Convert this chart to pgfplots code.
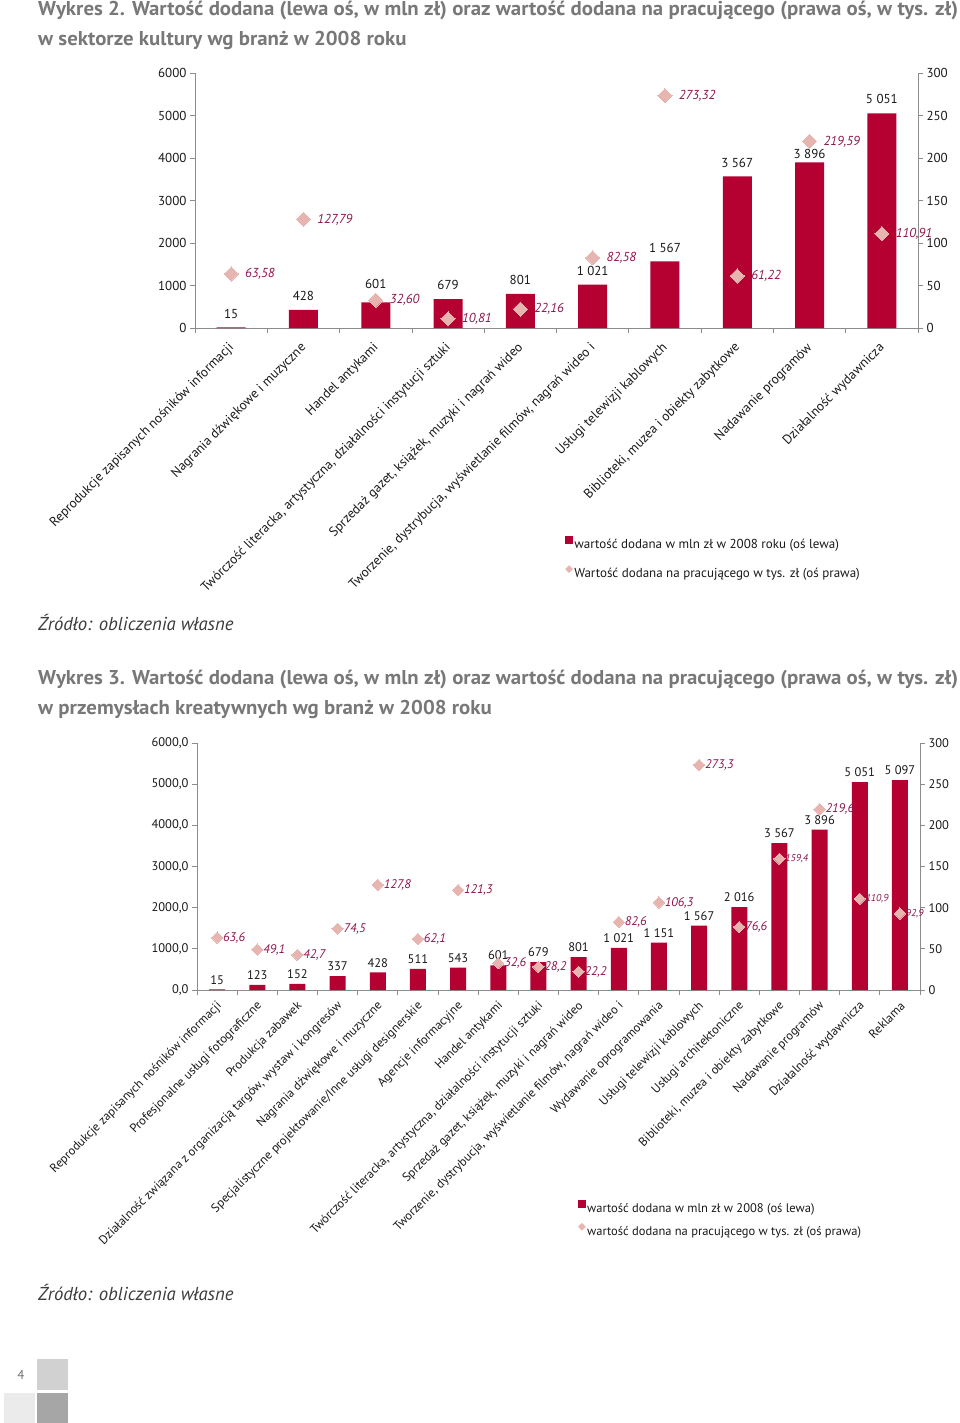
\documentclass[border=0pt]{standalone}
\usepackage{fontspec}
\setmainfont{PT Sans}
\usepackage{graphicx}
\usepackage{pgfplots}
\pgfplotsset{compat=1.18}
\definecolor{barred}{RGB}{181,0,50}
\definecolor{diam}{RGB}{230,181,176}
\definecolor{dlab}{RGB}{140,22,78}
\definecolor{ttl}{RGB}{120,120,120}
\definecolor{axg}{RGB}{140,140,140}
\definecolor{srcc}{RGB}{60,60,60}
\definecolor{txt}{RGB}{25,25,25}
\newlength\tlen
\newcommand\fs[1]{\fontsize{#1}{#1}\selectfont}
\newcommand\lowlab[1]{\raisebox{-5pt}[9pt][0pt]{#1}}
\newcommand\tA{Wykres 2. Wartość dodana (lewa oś, w mln zł) oraz wartość dodana na pracującego (prawa oś, w tys. zł)}
\newcommand\tAb{w sektorze kultury wg branż w 2008 roku}
\newcommand\tB{Wykres 3. Wartość dodana (lewa oś, w mln zł) oraz wartość dodana na pracującego (prawa oś, w tys. zł)}
\newcommand\tBb{w przemysłach kreatywnych wg branż w 2008 roku}
\pgfplotsset{
  common/.style={
    scale only axis, clip=false,
    axis line style={draw=axg, line width=0.8pt, -},
    tick align=outside, major tick length=5pt,
    tick style={draw=axg, line width=0.8pt},
    scaled y ticks=false,
  },
  diamplot/.style={only marks, color=diam, mark=square*, mark size=#1,
    mark options={rotate=45, fill=diam, draw=diam, line width=0pt},
    point meta=explicit symbolic, nodes near coords},
}
\begin{document}%
\settowidth\tlen{\fs{20}\bfseries\tA}%
\pgfmathsetmacro\sxA{920/\tlen}%
\settowidth\tlen{\fs{20}\bfseries\tB}%
\pgfmathsetmacro\sxB{920/\tlen}%
\begin{tikzpicture}
\begin{scope}[x=1pt,y=-1pt]
\path[use as bounding box] (0,0) rectangle (960,1423);
\node[anchor=base west, inner sep=0pt, text=ttl] at (38,16) {\scalebox{\sxA}[1]{\fs{20}\bfseries\tA}};
\node[anchor=base west, inner sep=0pt, text=ttl] at (38,46) {\scalebox{\sxA}[1]{\fs{20}\bfseries\tAb}};
\node[anchor=base west, inner sep=0pt, text=ttl] at (38,684) {\scalebox{\sxB}[1]{\fs{20}\bfseries\tB}};
\node[anchor=base west, inner sep=0pt, text=ttl] at (38,714) {\scalebox{\sxB}[1]{\fs{20}\bfseries\tBb}};
\node[anchor=base west, inner sep=0pt, text=srcc] at (38,630) {\fs{18.7}\itshape Źródło: obliczenia własne};
\node[anchor=base west, inner sep=0pt, text=srcc] at (38,1300) {\fs{18.7}\itshape Źródło: obliczenia własne};
\fill[black!18] (37,1359) rectangle (68,1390);
\fill[black!8] (4,1393) rectangle (35,1423);
\fill[black!35] (37,1393) rectangle (68,1423);
\node[text=black!55] at (21,1375) {\fs{13}4};
\end{scope}

%================ Wykres 2 =================
\begin{axis}[common,
  at={(195pt,-328pt)}, anchor=south west,
  width=723pt, height=255pt,
  xmin=-0.5, xmax=9.5, ymin=0, ymax=6000,
  axis x line*=bottom, axis y line*=left,
  xtick={-0.5,0.5,...,9.5}, xticklabels={},
  extra x ticks={0,1,2,3,4,5,6,7,8,9},
  extra x tick style={major tick length=0pt},
  extra x tick labels={
    {Reprodukcje zapisanych nośników informacji},
    {Nagrania dźwiękowe i muzyczne},
    {Handel antykami},
    {Twórczość literacka, artystyczna, działalności instytucji sztuki},
    {Sprzedaż gazet, książek, muzyki i nagrań wideo},
    {Tworzenie, dystrybucja, wyświetlanie filmów, nagrań wideo i},
    {Usługi telewizji kablowych},
    {Biblioteki, muzea i obiekty zabytkowe},
    {Nadawanie programów},
    {Działalność wydawnicza}},
  xticklabel style={rotate=45, anchor=east, font=\fs{13.3}, text=txt, inner sep=1pt, yshift=-13pt, xshift=-11pt},
  ytick={0,1000,...,6000}, yticklabels={0,1000,2000,3000,4000,5000,6000},
  yticklabel style={font=\fs{13}, text=txt},
  ybar, bar width=29pt,
]
\addplot[fill=barred, draw=none, point meta=explicit symbolic, nodes near coords,
  every node near coord/.append style={font=\fs{13}, text=txt, inner sep=3pt, yshift=6pt}]
coordinates {(0,15) [15] (1,428) [428] (2,601) [\raisebox{5pt}{601}] (3,679) [679] (4,801) [801]
 (5,1021) [1~021] (6,1567) [1~567] (7,3567) [3~567] (8,3896) [\lowlab{3~896}] (9,5051) [5~051]};
\end{axis}
\begin{axis}[common,
  at={(195pt,-328pt)}, anchor=south west,
  width=723pt, height=255pt,
  xmin=-0.5, xmax=9.5, ymin=0, ymax=300,
  axis x line=none, axis y line*=right,
  ytick={0,50,...,300}, yticklabels={0,50,100,150,200,250,300},
  yticklabel style={font=\fs{13}, text=txt},
  legend style={at={(0.512,-0.816)}, anchor=north west, draw=none, fill=none,
    font=\fs{13}, text=txt, row sep=14pt, inner sep=0pt, nodes={inner sep=1.5pt}},
  legend cell align=left,
]
\addlegendimage{legend image code/.code={\fill[barred] (0pt,1pt) rectangle (7pt,8pt);}}
\addlegendentry{wartość dodana w mln zł w 2008 roku (oś lewa)}
\addlegendimage{legend image code/.code={\fill[diam] (3.5pt,1pt) -- (7pt,4.5pt) -- (3.5pt,8pt) -- (0pt,4.5pt) -- cycle;}}
\addlegendentry{Wartość dodana na pracującego w tys. zł (oś prawa)}
\addplot[forget plot, diamplot=5pt,
  every node near coord/.append style={anchor=west, xshift=13pt, font=\fs{13}\itshape, text=dlab, inner sep=1pt}]
coordinates {(0,63.58) [{63,58}] (1,127.79) [{127,79}] (2,32.60) [{32,60}] (3,10.81) [{10,81}]
 (4,22.16) [{22,16}] (5,82.58) [{82,58}] (6,273.32) [{273,32}] (7,61.22) [{61,22}]
 (8,219.59) [{219,59}] (9,110.91) [{110,91}]};
\end{axis}

%================ Wykres 3 =================
\begin{axis}[common,
  at={(197pt,-990pt)}, anchor=south west,
  width=723pt, height=247pt,
  xmin=-0.5, xmax=17.5, ymin=0, ymax=6000,
  axis x line*=bottom, axis y line*=left,
  xtick={-0.5,0.5,...,17.5}, xticklabels={},
  extra x ticks={0,1,...,17},
  extra x tick style={major tick length=0pt},
  extra x tick labels={
    {Reprodukcje zapisanych nośników informacji},
    {Profesjonalne usługi fotograficzne},
    {Produkcja zabawek},
    {Działalność związana z organizacją targów, wystaw i kongresów},
    {Nagrania dźwiękowe i muzyczne},
    {Specjalistyczne projektowanie/Inne usługi designerskie},
    {Agencje informacyjne},
    {Handel antykami},
    {Twórczość literacka, artystyczna, działalności instytucji sztuki},
    {Sprzedaż gazet, książek, muzyki i nagrań wideo},
    {Tworzenie, dystrybucja, wyświetlanie filmów, nagrań wideo i},
    {Wydawanie oprogramowania},
    {Usługi telewizji kablowych},
    {Usługi architektoniczne},
    {Biblioteki, muzea i obiekty zabytkowe},
    {Nadawanie programów},
    {Działalność wydawnicza},
    {Reklama}},
  xticklabel style={rotate=45, anchor=east, font=\fs{12.4}, text=txt, inner sep=1pt, yshift=-12pt, xshift=-7pt},
  ytick={0,1000,...,6000}, yticklabels={{0,0},{1000,0},{2000,0},{3000,0},{4000,0},{5000,0},{6000,0}},
  yticklabel style={font=\fs{12.5}, text=txt},
  ybar, bar width=16pt,
]
\addplot[fill=barred, draw=none, point meta=explicit symbolic, nodes near coords,
  every node near coord/.append style={font=\fs{12.5}, text=txt, inner sep=3pt, yshift=2pt}]
coordinates {(0,15) [15] (1,123) [123] (2,152) [152] (3,337) [337] (4,428) [428]
 (5,511) [511] (6,543) [543] (7,601) [601] (8,679) [679] (9,801) [801]
 (10,1021) [1~021] (11,1151) [1~151] (12,1567) [1~567] (13,2016) [2~016]
 (14,3567) [3~567] (15,3896) [3~896] (16,5051) [5~051] (17,5097) [5~097]};
\end{axis}
\begin{axis}[common,
  at={(197pt,-990pt)}, anchor=south west,
  width=723pt, height=247pt,
  xmin=-0.5, xmax=17.5, ymin=0, ymax=300,
  axis x line=none, axis y line*=right,
  ytick={0,50,...,300}, yticklabels={0,50,100,150,200,250,300},
  yticklabel style={font=\fs{12.5}, text=txt},
  legend style={at={(0.527,-0.85)}, anchor=north west, draw=none, fill=none,
    font=\fs{12.5}, text=txt, row sep=8pt, inner sep=0pt, nodes={inner sep=1.5pt}},
  legend cell align=left,
]
\addlegendimage{legend image code/.code={\fill[barred] (0pt,1pt) rectangle (7pt,8pt);}}
\addlegendentry{wartość dodana w mln zł w 2008 (oś lewa)}
\addlegendimage{legend image code/.code={\fill[diam] (3.5pt,1pt) -- (7pt,4.5pt) -- (3.5pt,8pt) -- (0pt,4.5pt) -- cycle;}}
\addlegendentry{wartość dodana na pracującego w tys. zł (oś prawa)}
\addplot[forget plot, diamplot=4pt,
  every node near coord/.append style={anchor=west, xshift=5pt, font=\fs{12.5}\itshape, text=dlab, inner sep=1pt}]
coordinates {(0,63.6) [{63,6}] (1,49.1) [{49,1}] (2,42.7) [{42,7}] (3,74.5) [{74,5}]
 (4,127.8) [{127,8}] (5,62.1) [{62,1}] (6,121.3) [{121,3}] (7,32.6) [{32,6}]
 (8,28.2) [{28,2}] (9,22.2) [{22,2}] (10,82.6) [{82,6}] (11,106.3) [{106,3}]
 (12,273.3) [{273,3}] (13,76.6) [{76,6}] (15,219.6) [{219,6}]};
\addplot[forget plot, diamplot=4pt,
  every node near coord/.append style={anchor=west, xshift=5pt, font=\fs{10}\itshape, text=dlab, inner sep=1pt}]
coordinates {(14,159.4) [{159,4}] (16,110.9) [{110,9}] (17,92.9) [{92,9}]};
\end{axis}
\end{tikzpicture}
\end{document}
